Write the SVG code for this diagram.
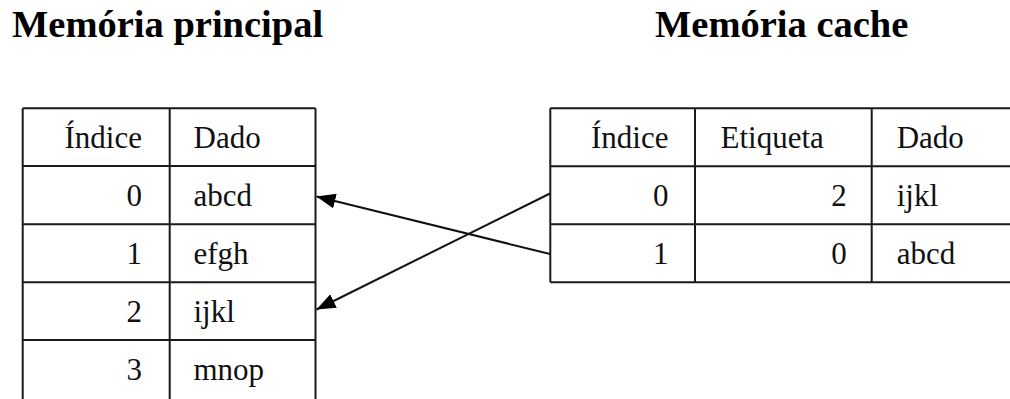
<svg xmlns="http://www.w3.org/2000/svg" width="1010" height="399" viewBox="0 0 1010 399">
  <style>
    .title { font-family: "Liberation Serif", "Times New Roman", Times, "DejaVu Serif", serif; font-weight: bold; font-size: 38.5px; fill: #000; }
    .cell { font-family: "Liberation Serif", "Times New Roman", Times, "DejaVu Serif", serif; font-size: 31px; fill: #111; }
    .r { text-anchor: end; }
    .grid { fill: none; stroke: #1a1a1a; stroke-width: 2; }
    .conn { fill: none; stroke: #111; stroke-width: 2; }
  </style>
  <defs>
    <marker id="arrow" viewBox="0 0 19 15" refX="19" refY="7.5" markerWidth="19" markerHeight="15" markerUnits="userSpaceOnUse" orient="auto">
      <path d="M0,0 L19,7.5 L0,15 z" fill="#000"/>
    </marker>
  </defs>
  <rect width="1010" height="399" fill="#fff"/>

  <g id="title-principal">
    <text class="title" x="12" y="37">Memória principal</text>
  </g>
  <g id="title-cache">
    <text class="title" x="655" y="37">Memória cache</text>
  </g>

  <g id="memoria-principal">
    <path class="grid" d="M22.7,108.3 H315.5 M22.7,166 H315.5 M22.7,224.3 H315.5 M22.7,282.3 H315.5 M22.7,340 H315.5 M22.7,108.3 V400 M169.7,108.3 V400 M315.5,108.3 V400"/>
    <text class="cell r" x="142" y="148.3">Índice</text>
    <text class="cell" x="193.5" y="148.3">Dado</text>
    <text class="cell r" x="142" y="205.5">0</text>
    <text class="cell" x="193.5" y="205.5">abcd</text>
    <text class="cell r" x="142" y="264">1</text>
    <text class="cell" x="193.5" y="264">efgh</text>
    <text class="cell r" x="142" y="322">2</text>
    <text class="cell" x="193.5" y="322">ijkl</text>
    <text class="cell r" x="142" y="380">3</text>
    <text class="cell" x="193.5" y="380">mnop</text>
  </g>

  <g id="memoria-cache">
    <path class="grid" d="M550.3,108.3 H1012 M550.3,166.3 H1012 M550.3,224.3 H1012 M550.3,282.3 H1012 M550.3,108.3 V282.3 M695,108.3 V282.3 M871.7,108.3 V282.3"/>
    <text class="cell r" x="668.5" y="148.3">Índice</text>
    <text class="cell" x="720.5" y="148.3">Etiqueta</text>
    <text class="cell" x="896.7" y="148.3">Dado</text>
    <text class="cell r" x="668.5" y="206">0</text>
    <text class="cell r" x="846.7" y="206">2</text>
    <text class="cell" x="896.7" y="206">ijkl</text>
    <text class="cell r" x="668.5" y="264">1</text>
    <text class="cell r" x="846.7" y="264">0</text>
    <text class="cell" x="896.7" y="264">abcd</text>
  </g>

  <g id="connectors">
    <line class="conn" x1="550" y1="254" x2="316.5" y2="196.5" marker-end="url(#arrow)"/>
    <line class="conn" x1="550" y1="193.5" x2="316.5" y2="309.5" marker-end="url(#arrow)"/>
  </g>
</svg>
